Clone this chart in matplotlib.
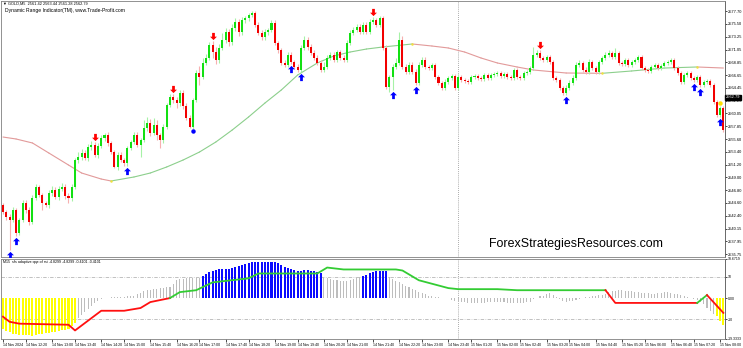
import matplotlib
matplotlib.use("Agg")
import matplotlib.pyplot as plt
import numpy as np
from matplotlib.path import Path
from matplotlib.transforms import blended_transform_factory

plt.rcParams["font.family"] = ["Liberation Sans", "DejaVu Sans"]

# ---------------- data ----------------
symbol_line = "GOLD,M5  2561.42 2563.44 2561.28 2562.79"
indicator_title = "Dynamic Range Indicator(TM), www.Trade-Profit.com"
osc_title = "M15  sfs adaptive qqe of rsi -4.8299 -4.8299 -0.4101 -0.4101"
watermark = "ForexStrategiesResources.com"

first_open = 2544.22
closes = [
    2543.01, 2542.15, 2541.63, 2543.35, 2539.38, 2541.63, 2544.56, 2543.35, 2541.28, 2545.43,
    2547.32, 2545.94, 2544.56, 2544.22, 2546.29, 2546.81, 2545.60, 2546.98, 2547.32, 2545.77,
    2545.43, 2547.32, 2551.98, 2552.50, 2553.19, 2552.33, 2554.23, 2554.57, 2552.85, 2554.40,
    2555.78, 2556.30, 2554.92, 2553.36, 2550.78, 2552.85, 2551.98, 2551.47, 2554.06, 2555.09,
    2556.30, 2554.57, 2555.44, 2557.51, 2558.37, 2556.64, 2558.03, 2556.30, 2555.44, 2557.68,
    2561.48, 2562.86, 2562.34, 2561.82, 2563.55, 2561.30, 2559.23, 2557.68, 2562.34, 2567.00,
    2566.31, 2568.73, 2569.59, 2571.83, 2570.62, 2569.24, 2571.32, 2572.70, 2574.08, 2572.35,
    2574.77, 2575.80, 2574.08, 2576.15, 2576.49, 2577.01, 2577.36, 2575.29, 2573.90, 2573.21,
    2574.08, 2574.42, 2575.63, 2572.18, 2570.97, 2568.73, 2568.38, 2570.11, 2568.90, 2568.04,
    2567.52, 2571.32, 2572.70, 2571.49, 2570.45, 2569.59, 2568.73, 2567.52, 2568.04, 2569.59,
    2570.11, 2569.24, 2570.62, 2569.59, 2569.24, 2572.18, 2573.90, 2574.42, 2574.94, 2574.08,
    2575.29, 2574.08, 2575.80, 2576.15, 2575.29, 2576.49, 2571.32, 2564.58, 2566.31, 2568.04,
    2568.73, 2572.70, 2568.04, 2567.17, 2568.38, 2567.17, 2565.27, 2568.38, 2569.24, 2568.04,
    2567.86, 2568.38, 2566.31, 2565.27, 2564.41, 2565.45, 2566.14, 2566.48, 2564.41, 2566.31,
    2565.79, 2565.62, 2565.45, 2566.31, 2566.48, 2566.14, 2565.96, 2566.66, 2566.14, 2566.66,
    2566.83, 2567.00, 2566.48, 2566.83, 2566.31, 2566.14, 2567.52, 2566.31, 2566.14, 2567.00,
    2567.17, 2567.86, 2570.11, 2570.45, 2569.59, 2569.24, 2569.76, 2568.90, 2566.14, 2565.79,
    2564.41, 2563.55, 2564.41, 2565.27, 2566.14, 2568.38, 2568.73, 2567.52, 2567.17, 2568.90,
    2567.86, 2567.17, 2568.90, 2569.59, 2570.11, 2570.45, 2569.76, 2570.45, 2568.73, 2568.55,
    2569.24, 2568.38, 2568.90, 2569.24, 2569.76, 2567.86, 2567.52, 2567.35, 2568.04, 2568.38,
    2567.86, 2568.21, 2568.73, 2568.90, 2569.24, 2567.86, 2567.00, 2565.45, 2566.66, 2567.00,
    2566.14, 2565.79, 2566.31, 2564.93, 2565.45, 2565.62, 2564.93, 2561.99, 2559.75, 2560.96,
    2557.16,
]
wick_up = [
    0.35, 0.3, 0.5, 0.5, 0.35, 0.3, 0.5, 0.5, 0.5, 0.5,
    0.5, 0.35, 0.35, 0.35, 0.5, 0.7, 0.5, 0.5, 0.7, 0.5,
    0.5, 0.5, 0.35, 0.9, 0.7, 0.5, 0.5, 0.7, 0.5, 0.5,
    0.5, 0.35, 0.5, 0.35, 0.35, 0.5, 0.5, 0.35, 0.35, 0.35,
    0.5, 0.5, 0.35, 1.4, 1.0, 0.7, 1.2, 0.9, 0.35, 0.5,
    0.35, 0.5, 0.5, 0.5, 0.5, 0.5, 0.5, 0.5, 0.35, 0.5,
    1.2, 0.9, 0.7, 0.5, 0.7, 0.9, 0.7, 1.2, 0.7, 0.5,
    0.7, 0.7, 0.5, 0.5, 0.35, 0.35, 0.35, 0.35, 0.5, 0.5,
    0.5, 0.35, 0.5, 0.5, 0.35, 0.35, 0.5, 0.5, 0.5, 0.35,
    0.5, 0.5, 0.7, 0.5, 0.5, 0.5, 0.5, 0.5, 0.9, 0.5,
    0.5, 0.5, 0.35, 0.35, 0.5, 0.5, 0.5, 0.5, 0.5, 0.5,
    0.5, 0.5, 0.5, 0.5, 0.35, 0.35, 0.35, 0.5, 0.35, 0.5,
    0.9, 1.4, 0.7, 0.5, 0.5, 0.5, 0.5, 0.5, 0.5, 0.5,
    0.35, 0.35, 0.35, 0.35, 0.35, 0.5, 0.35, 0.35, 0.35, 0.5,
    0.35, 0.35, 0.35, 0.35, 0.35, 0.35, 0.35, 0.35, 0.35, 0.35,
    0.35, 0.35, 0.35, 0.35, 0.35, 0.35, 0.35, 0.35, 0.35, 0.35,
    0.35, 0.35, 1.4, 0.5, 0.5, 0.35, 0.35, 0.35, 0.35, 0.35,
    0.35, 0.35, 0.5, 0.5, 0.5, 0.5, 0.5, 0.35, 0.5, 0.5,
    0.35, 0.35, 0.35, 0.35, 0.5, 0.5, 0.35, 0.9, 0.35, 0.35,
    0.35, 0.35, 0.35, 0.35, 0.35, 0.35, 0.35, 0.35, 0.35, 0.35,
    0.35, 0.35, 0.35, 0.35, 0.35, 0.35, 0.35, 0.35, 0.35, 0.35,
    0.35, 0.35, 0.35, 0.35, 0.35, 0.35, 0.35, 0.35, 0.35, 0.35,
    0.35,
]
wick_dn = [
    0.35, 0.5, 5.2, 0.35, 0.5, 0.35, 0.35, 0.5, 0.5, 0.35,
    0.35, 0.35, 1.2, 0.35, 0.5, 0.5, 0.35, 0.5, 0.35, 0.5,
    0.9, 0.5, 0.35, 0.5, 0.5, 0.35, 0.5, 0.5, 0.35, 0.5,
    0.35, 0.5, 0.5, 0.35, 0.2, 0.5, 0.35, 0.5, 0.5, 0.35,
    0.35, 0.35, 2.1, 0.35, 0.5, 0.5, 0.35, 0.9, 1.4, 0.5,
    0.35, 0.35, 0.5, 0.9, 0.5, 0.5, 0.35, 0.2, 0.35, 0.35,
    1.4, 0.35, 0.35, 0.35, 1.0, 0.7, 0.5, 0.35, 0.5, 0.7,
    0.5, 0.5, 0.7, 0.5, 0.5, 0.5, 0.35, 0.35, 0.35, 0.5,
    0.5, 0.5, 0.35, 0.35, 0.5, 0.35, 0.35, 0.35, 0.35, 0.35,
    0.35, 0.35, 0.35, 0.5, 0.35, 0.35, 0.35, 0.35, 0.35, 0.35,
    0.35, 0.35, 0.35, 0.35, 0.35, 0.35, 0.35, 0.35, 0.35, 0.35,
    0.35, 0.35, 0.35, 0.35, 0.35, 0.35, 0.35, 0.35, 0.9, 2.2,
    0.35, 0.35, 0.35, 0.35, 0.35, 0.35, 0.35, 0.35, 0.35, 0.35,
    0.35, 0.35, 0.35, 0.35, 0.35, 0.35, 0.35, 0.35, 0.35, 0.35,
    0.35, 0.35, 0.35, 0.35, 0.35, 0.35, 0.35, 0.35, 0.35, 0.35,
    0.35, 0.35, 0.35, 0.35, 0.35, 0.35, 0.35, 0.35, 0.35, 0.35,
    0.35, 0.35, 0.35, 0.35, 0.35, 0.35, 0.35, 0.35, 0.35, 0.35,
    0.35, 0.35, 0.35, 0.35, 0.35, 0.35, 0.35, 0.35, 0.35, 0.35,
    0.35, 0.35, 0.35, 0.35, 0.35, 0.35, 0.35, 0.35, 0.35, 0.35,
    0.35, 0.35, 0.35, 0.35, 0.35, 0.35, 0.35, 0.35, 0.35, 0.35,
    0.35, 0.35, 0.35, 0.35, 0.35, 0.35, 0.35, 0.35, 0.35, 0.35,
    0.35, 0.35, 0.35, 0.35, 0.35, 0.35, 0.35, 0.35, 0.35, 0.35,
    0.35,
]

buy_signals = [2, 4, 38, 88, 91, 119, 126, 172, 211, 213, 219]
sell_signals = [28, 52, 64, 113, 164]
buy_dots = [58]
alert_dots = [219]
last_quote = 2562.79

price_ticks = [2577.70, 2575.50, 2573.25, 2571.05, 2568.85, 2566.65, 2564.45, 2562.25,
               2560.05, 2557.85, 2555.60, 2553.40, 2551.20, 2549.00, 2546.80, 2544.60,
               2542.40, 2540.15, 2537.95, 2535.75]

# dynamic range centre line (bar index, price)
ma_idx = [0, 4, 9, 14, 20, 24, 30, 33, 40, 45, 50, 55, 60, 65, 70, 75, 80, 85, 90, 96,
          101, 106, 111, 116, 125, 131, 136, 141, 146, 151, 157, 162, 172, 183, 192, 202,
          212, 220]
ma_val = [2555.95, 2555.61, 2554.92, 2553.19, 2551.12, 2549.74, 2548.70, 2548.36, 2549.05,
          2549.74, 2550.78, 2551.98, 2553.36, 2555.09, 2557.16, 2559.41, 2561.82, 2564.07,
          2566.66, 2568.73, 2569.93, 2570.62, 2571.14, 2571.49, 2572.01, 2571.66, 2571.32,
          2570.62, 2569.59, 2568.73, 2568.04, 2567.52, 2567.00, 2566.95, 2567.35, 2567.86,
          2568.04, 2567.86]

# oscillator histogram, one value per bar
hist = [
    -14.5, -15.5, -16.2, -16.8, -17.1, -17.3, -17.4, -17.5, -17.6, -17.7,
    -17.5, -17.1, -16.8, -16.6, -16.3, -16.1, -15.8, -15.6, -15.3, -15.0,
    -14.5, -13.2, -12.0, -9.6, -8.0, -6.4, -5.0, -3.8, -2.5, -1.3,
    -0.6, -0.2, 0.1, 0.3, 0.4, 0.5, 0.6, 0.7, 0.8, 0.9,
    1.2, 1.8, 2.5, 3.1, 3.7, 4.0, 4.3, 4.5, 4.7, 4.9,
    5.0, 5.2, 6.8, 8.4, 8.8, 9.1, 9.3, 9.3, 9.3, 9.3,
    9.4, 10.5, 11.4, 12.3, 13.0, 13.4, 13.6, 13.7, 13.8, 13.9,
    14.0, 14.5, 15.1, 15.6, 16.1, 16.6, 16.8, 16.9, 17.0, 17.1,
    17.2, 17.1, 17.0, 16.8, 16.4, 15.6, 14.8, 14.2, 13.7, 13.1,
    12.8, 12.9, 13.3, 13.4, 13.0, 12.8, 12.5, 11.9, 9.9, 9.4,
    9.0, 8.6, 8.3, 8.0, 7.9, 8.0, 8.4, 8.9, 9.3, 9.9,
    10.5, 11.1, 11.8, 12.2, 12.6, 12.8, 13.0, 12.6, 9.8, 9.0,
    8.2, 7.4, 6.6, 5.8, 5.1, 4.4, 3.8, 3.0, 2.3, 1.7,
    1.2, 0.9, 0.6, 0.4, 0.2, 0.1, 0.0, -0.7, -1.2, -1.7,
    -2.0, -2.1, -2.2, -2.2, -2.3, -2.3, -2.3, -2.2, -2.1, -2.0,
    -2.0, -1.9, -2.0, -2.1, -2.2, -2.3, -2.3, -2.3, -2.3, -2.2,
    -2.0, -1.7, -0.5, 0.2, 0.8, 1.2, 1.9, 2.3, 1.4, 0.6,
    -0.5, -1.2, -1.9, -1.6, -1.2, -0.8, -0.5, 0.0, 0.4, 0.7,
    0.9, 1.1, 1.3, 1.4, 2.1, 2.8, 3.2, 3.5, 3.7, 3.6,
    3.4, 3.2, 3.1, 2.9, 2.8, 2.6, 2.4, 2.2, 1.9, 2.1,
    2.3, 2.5, 2.7, 2.8, 2.5, 2.1, 1.7, 1.4, 0.9, 0.5,
    0.1, -0.3, -0.8, -1.7, -3.0, -4.9, -6.2, -7.3, -8.6, -11.0,
    -12.8,
]
hist_runs = [(0, 22, "oversold"), (23, 60, "neutral"), (61, 97, "overbought"),
             (98, 109, "neutral"), (110, 117, "overbought"), (118, 217, "neutral"),
             (218, 220, "oversold")]

# M15 trailing line (bar index, value) and its trend state
qqe_idx = [0, 2, 5, 20, 22, 30, 37, 42, 45, 51, 54, 59, 64, 75, 78, 96, 99, 104, 120,
           122, 127, 136, 139, 151, 157, 184, 187, 212, 215, 220]
qqe_val = [-8.8, -11.2, -12.1, -12.6, -15.3, -6.0, -6.0, -4.7, -1.9, 0.0, 2.8, 3.7, 7.4,
           9.3, 11.6, 11.6, 14.4, 13.5, 13.5, 13.0, 8.4, 4.7, 4.2, 4.2, 3.7, 3.7, -2.3,
           -2.3, 1.4, -7.0]
qqe_runs = [(0, 51, "down"), (51, 184, "up"), (184, 212, "down"), (212, 215, "up"),
            (215, 220, "down")]

osc_ticks = [18.6719, 10, 0, -10, -19.3333]
osc_tick_labels = ["18.6719", "10", "0.00", "-10", "-19.3333"]
osc_levels = [10, -10]

time_bars = [0, 7, 15, 22, 30, 37, 45, 53, 60, 68, 75, 83, 90, 98, 105, 113, 121, 128, 136,
             143, 151, 158, 166, 173, 181, 189, 196, 204, 211, 219]
time_labels = ["14 Nov 2024", "14 Nov 12:20", "14 Nov 13:00", "14 Nov 13:40", "14 Nov 14:20",
               "14 Nov 15:00", "14 Nov 15:40", "14 Nov 16:20", "14 Nov 17:00", "14 Nov 17:40",
               "14 Nov 18:20", "14 Nov 19:00", "14 Nov 19:40", "14 Nov 20:20", "14 Nov 21:00",
               "14 Nov 21:40", "14 Nov 22:20", "14 Nov 23:00", "14 Nov 23:40", "15 Nov 01:20",
               "15 Nov 02:00", "15 Nov 02:40", "15 Nov 03:20", "15 Nov 04:00", "15 Nov 04:40",
               "15 Nov 05:20", "15 Nov 06:00", "15 Nov 06:40", "15 Nov 07:20", "15 Nov 08:00"]
day_break_bar = 139

# ---------------- styling ----------------
BULL_BODY, BEAR_BODY = "#12e012", "#f20000"
BULL_WICK, BEAR_WICK = "#a6f2a6", "#f7b0b0"
MA_UP, MA_DOWN = "#8ccf8c", "#e29a9a"
HIST_COLORS = {"oversold": "#ffff00", "neutral": "#bdbdbd", "overbought": "#0a0aff"}
HIST_WIDTH = {"oversold": 0.62, "neutral": 0.32, "overbought": 0.62}
LINE_COLORS = {"up": "#33cc33", "down": "#ff1010"}
ARROW_GAP = 0.9
AXIS_FS = 2.9

W, H = 743, 348
fig = plt.figure(figsize=(W / 100, H / 100), dpi=100, facecolor="white")


def px_box(x0, y0, x1, y1):
    return [x0 / W, 1 - y1 / H, (x1 - x0) / W, (y1 - y0) / H]


ax = fig.add_axes(px_box(1, 1, 725, 257))
osc = fig.add_axes(px_box(1, 258.5, 725, 339), sharex=ax)

# ---------------- candles ----------------
c = np.array(closes)
o = np.concatenate([[first_open], c[:-1]])
hi = np.maximum(o, c) + np.array(wick_up)
lo = np.minimum(o, c) - np.array(wick_dn)
xb = np.arange(len(c))
bull = c >= o
body_lo = np.minimum(o, c)
body_h = np.maximum(np.abs(c - o), 0.12)

ax.vlines(xb[bull], lo[bull], hi[bull], color=BULL_WICK, lw=0.8, zorder=2)
ax.vlines(xb[~bull], lo[~bull], hi[~bull], color=BEAR_WICK, lw=0.8, zorder=2)
ax.bar(xb[bull], body_h[bull], bottom=body_lo[bull], width=0.62, color=BULL_BODY, lw=0, zorder=3)
ax.bar(xb[~bull], body_h[~bull], bottom=body_lo[~bull], width=0.62, color=BEAR_BODY, lw=0, zorder=3)

# centre line, coloured by slope
for j in range(len(ma_idx) - 1):
    col = MA_UP if ma_val[j + 1] > ma_val[j] else MA_DOWN
    ax.plot(ma_idx[j:j + 2], ma_val[j:j + 2], color=col, lw=0.8, zorder=1,
            solid_capstyle="round")
for j in range(1, len(ma_idx) - 1):
    if (ma_val[j + 1] > ma_val[j]) != (ma_val[j] > ma_val[j - 1]):
        ax.plot(ma_idx[j], ma_val[j], "o", ms=1.8, color="#f0e040", mec="none", zorder=2)

# signal arrows
up_arrow = Path([(0, 1), (0.95, 0.05), (0.38, 0.05), (0.38, -1), (-0.38, -1),
                 (-0.38, 0.05), (-0.95, 0.05), (0, 1)])
down_arrow = Path([(vx, -vy) for vx, vy in up_arrow.vertices])
ax.plot(buy_signals, lo[buy_signals] - ARROW_GAP, ls="none", marker=up_arrow, ms=5.2,
        color="#0000ff", mec="none", zorder=5)
ax.plot(sell_signals, hi[sell_signals] + ARROW_GAP, ls="none", marker=down_arrow, ms=5.2,
        color="#ff0000", mec="none", zorder=5)
ax.plot(buy_dots, lo[buy_dots] - 0.4, ls="none", marker="o", ms=3.2, color="#0000ff",
        mec="none", zorder=5)
ax.plot(alert_dots, hi[alert_dots] + 0.5, ls="none", marker="o", ms=3.2, color="#ffe000",
        mec="none", zorder=5)

ax.axvline(day_break_bar, color="#909090", lw=0.6, ls=(0, (1, 1.5)), zorder=0)

ax.set_xlim(-0.61, 220.5)
ax.set_ylim(2535.24, 2579.43)
ax.yaxis.tick_right()
ax.set_yticks(price_ticks)
ax.set_yticklabels([f"{p:.2f}" for p in price_ticks])
ax.tick_params(axis="y", labelsize=AXIS_FS, length=1.5, width=0.5, pad=0.6)
ax.tick_params(axis="x", bottom=False, labelbottom=False)
for s in ax.spines.values():
    s.set_color("#808080")
    s.set_linewidth(0.6)
ax.spines["right"].set_color("#505050")

ax.text(1.0015, last_quote, f"{last_quote:.2f}", color="white", fontsize=AXIS_FS,
        ha="left", va="center", zorder=10, clip_on=False,
        transform=blended_transform_factory(ax.transAxes, ax.transData),
        bbox=dict(boxstyle="square,pad=0.2", fc="black", ec="black"))

fig.text(3 / W, 1 - 4 / H, "\u25bc " + symbol_line, fontsize=2.8, va="center", ha="left")
fig.text(5 / W, 1 - 10.5 / H, indicator_title, fontsize=3.6, va="center", ha="left")
fig.text(576.5 / W, 1 - 244 / H, watermark, fontsize=8.9, va="center", ha="center",
         color="black")

# ---------------- oscillator ----------------
hv = np.array(hist)
for a, b, state in hist_runs:
    idx = np.arange(a, b + 1)
    osc.bar(idx, hv[idx], width=HIST_WIDTH[state], color=HIST_COLORS[state], lw=0, zorder=2)

for lev in osc_levels:
    osc.axhline(lev, color="#a8a8a8", lw=0.5, ls=(0, (5, 2, 1, 2)), zorder=1)

qi = np.array(qqe_idx)
qv = np.array(qqe_val)
for a, b, state in qqe_runs:
    m = (qi >= a) & (qi <= b)
    osc.plot(qi[m], qv[m], color=LINE_COLORS[state], lw=1.3, zorder=4,
             solid_joinstyle="round")

osc.axvline(day_break_bar, color="#909090", lw=0.6, ls=(0, (1, 1.5)), zorder=0)
osc.set_ylim(-19.3333, 18.6719)
osc.yaxis.tick_right()
osc.set_yticks(osc_ticks)
osc.set_yticklabels(osc_tick_labels)
osc.tick_params(axis="y", labelsize=2.5, length=1.5, width=0.5, pad=0.6)
osc.set_xticks(time_bars)
osc.set_xticklabels(time_labels, ha="left")
osc.tick_params(axis="x", labelsize=2.5, length=2, width=0.5, pad=1)
for s in osc.spines.values():
    s.set_color("#808080")
    s.set_linewidth(0.6)
osc.spines["right"].set_color("#505050")
fig.text(3 / W, 1 - 262.5 / H, osc_title, fontsize=2.6, va="center", ha="left")

fig.savefig("out.png", dpi=100, facecolor="white")
